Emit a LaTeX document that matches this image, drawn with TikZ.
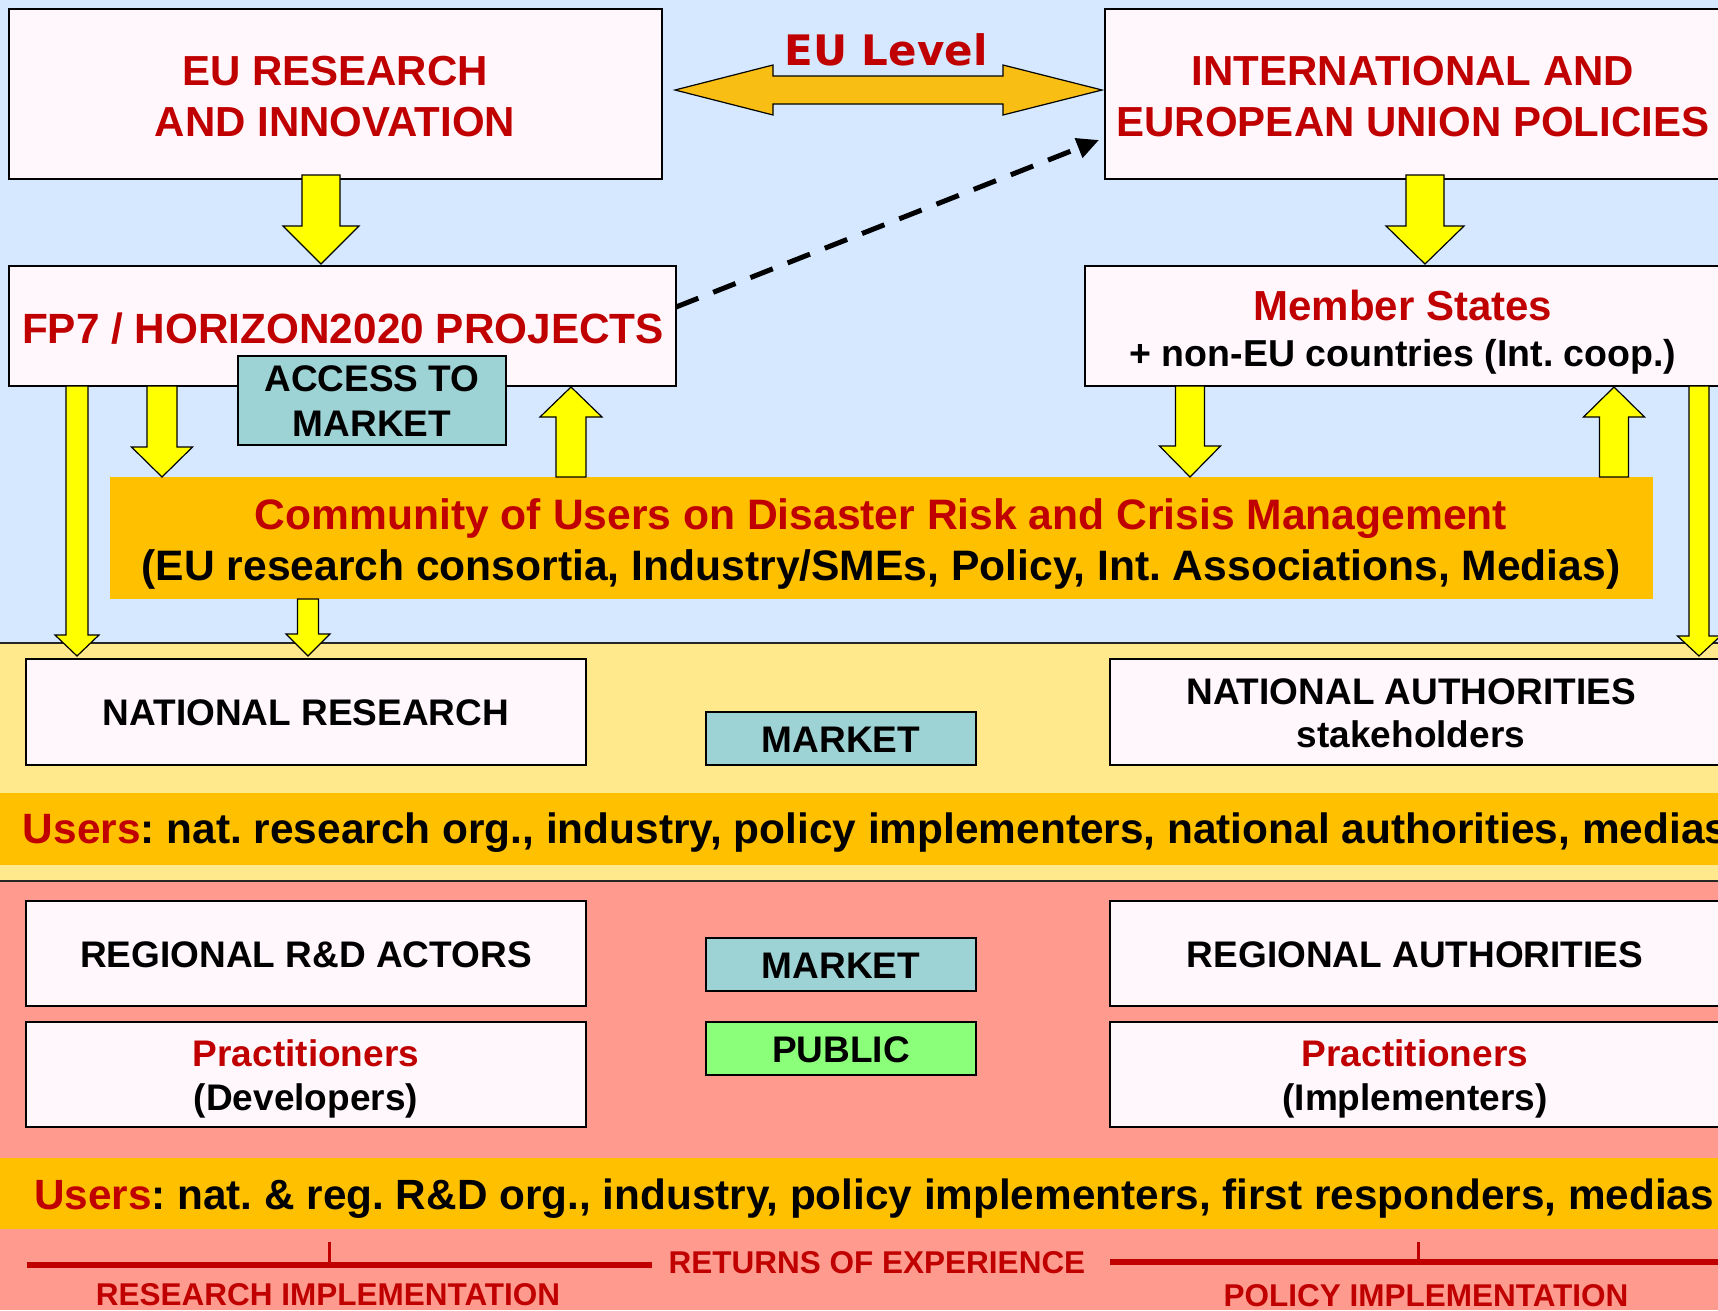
\documentclass[tikz,border=0pt]{standalone}
\usepackage{fontspec}
\setmainfont{Liberation Sans}
\newfontfamily\dejavu{DejaVu Sans}
\usetikzlibrary{calc,arrows.meta}
\frenchspacing
\definecolor{bgblue}{HTML}{D5E8FF}
\definecolor{bgyellow}{HTML}{FFE98C}
\definecolor{bgsalmon}{HTML}{FF9A8E}
\definecolor{bandorange}{HTML}{FFC000}
\definecolor{boxfill}{HTML}{FFF7FC}
\definecolor{mkteal}{HTML}{9ED3D6}
\definecolor{pubgreen}{HTML}{8CFF7A}
\definecolor{darkred}{HTML}{C00000}
\definecolor{arrowyellow}{HTML}{FFFF00}
\definecolor{levelorange}{HTML}{F9BE14}
\newcommand\fsz[1]{\fontsize{#1}{#1}\selectfont}
% block arrow: tail, tip (same x), shaft half width, head half width, signed head length (canvas)
\newcommand\yarrow[5]{\draw[yarr] let \p1=(#1), \p2=(#2) in
  ({\x1-#3},{\y1}) -- ({\x1+#3},{\y1}) -- ({\x1+#3},{\y2+(#5)}) -- ({\x1+#4},{\y2+(#5)}) --
  ({\x1},{\y2}) -- ({\x1-#4},{\y2+(#5)}) -- ({\x1-#3},{\y2+(#5)}) -- cycle;}
\begin{document}
\frenchspacing
\begin{tikzpicture}[x=1pt,y=-1pt,
  box/.style={draw=black, line width=1.6pt, fill=boxfill, inner sep=0pt, outer sep=0pt, anchor=north west},
  yarr/.style={draw=black, line width=1.2pt, fill=arrowyellow, line join=miter},
  lbl/.style={inner sep=0pt, outer sep=0pt, anchor=base, font=\bfseries},
  redlbl/.style={lbl, text=darkred},
  redline/.style={draw=darkred, line width=6pt},
  redtick/.style={draw=darkred, line width=3pt},
  bandline/.style={draw=black!85, line width=1.5pt}]
\useasboundingbox (0,0) rectangle (1718,1310);
\clip (0,0) rectangle (1718,1310);
% background bands
\fill[bgblue] (0,0) rectangle (1718,643);
\fill[bgyellow] (0,643) rectangle (1718,881);
\fill[bgsalmon] (0,881) rectangle (1718,1310);
\fill[bandorange] (0,793) rectangle (1718,865);
\fill[bandorange] (0,1158) rectangle (1718,1229);
\draw[bandline] (0,643) -- (1718,643);
\draw[bandline] (0,881) -- (1718,881);
% boxes
\node[box, minimum width=653pt, minimum height=170pt] (eur) at (9,9) {};
\node[box, minimum width=617pt, minimum height=170pt] (intl) at (1105,9) {};
\node[box, minimum width=667pt, minimum height=120pt] (fp7) at (9,266) {};
\node[box, minimum width=637pt, minimum height=120pt] (mem) at (1085,266) {};
\node[box, fill=mkteal, minimum width=268pt, minimum height=89pt] (acc) at (238,356) {};
\node[box, draw=none, fill=bandorange, minimum width=1543pt, minimum height=122pt] (comm) at (110,477) {};
\node[box, minimum width=560pt, minimum height=106pt] (natres) at (26,659) {};
\node[box, fill=mkteal, minimum width=270pt, minimum height=53pt] (mkt1) at (706,712) {};
\node[box, minimum width=612pt, minimum height=106pt] (natauth) at (1110,659) {};
\node[box, minimum width=560pt, minimum height=105pt] (regrd) at (26,901) {};
\node[box, minimum width=560pt, minimum height=105pt] (pracl) at (26,1022) {};
\node[box, fill=mkteal, minimum width=270pt, minimum height=53pt] (mkt2) at (706,938) {};
\node[box, fill=pubgreen, minimum width=270pt, minimum height=53pt] (pub) at (706,1022) {};
\node[box, minimum width=612pt, minimum height=105pt] (regauth) at (1110,901) {};
\node[box, minimum width=612pt, minimum height=105pt] (pracr) at (1110,1022) {};
% EU level double arrow
\draw[line width=1.2pt, fill=levelorange, line join=miter]
  let \p1=($(eur.east)+(13,-4)$), \p2=($(intl.west)+(-3,-4)$) in
  ({\x1},{\y1}) -- ({\x1+98},{\y1+25}) -- ({\x1+98},{\y1+14}) -- ({\x2-99},{\y1+14}) -- ({\x2-99},{\y1+25}) --
  ({\x2},{\y2}) -- ({\x2-99},{\y1-25}) -- ({\x2-99},{\y1-14}) -- ({\x1+98},{\y1-14}) -- ({\x1+98},{\y1-25}) -- cycle;
\node[lbl, text=darkred, font=\dejavu\bfseries\fsz{42}] (eulevel) at (886,65) {EU Level};
% dashed arrow
\draw[line width=5pt, dash pattern=on 24pt off 16pt, -{Triangle[length=22pt,width=20pt]}]
  ($(fp7.east)+(0,-19)$) -- ($(intl.south west)+(-6,-39)$);
% yellow block arrows
\yarrow{$(eur.south -| 321,0)+(0,-4)$}{$(fp7.north -| 321,0)+(0,-2)$}{19}{38}{38}
\yarrow{$(intl.south -| 1425,0)+(0,-4)$}{$(mem.north -| 1425,0)+(0,-2)$}{19}{39}{38}
\yarrow{fp7.south -| 77,0}{$(natres.north -| 77,0)+(0,-3)$}{11}{22}{21}
\yarrow{fp7.south -| 162,0}{comm.north -| 162,0}{15}{30.5}{30}
\yarrow{comm.north -| 571,0}{$(fp7.south -| 571,0)+(0,1)$}{15}{31}{-30}
\yarrow{comm.south -| 308,0}{$(natres.north -| 308,0)+(0,-3)$}{10.5}{22}{22}
\yarrow{mem.south -| 1190,0}{comm.north -| 1190,0}{14.5}{30.5}{31}
\yarrow{comm.north -| 1614,0}{$(mem.south -| 1614,0)+(0,1)$}{14.5}{30.5}{-30}
\yarrow{mem.south -| 1699,0}{$(natauth.north -| 1699,0)+(0,-3)$}{10}{21.5}{20}
% texts
\node[redlbl, font=\bfseries\fsz{42}] (t1) at (335,85) {EU RESEARCH};
\node[redlbl, font=\bfseries\fsz{42}] (t2) at (335,136) {AND INNOVATION};
\node[redlbl, font=\bfseries\fsz{42}] (t3) at (1413,85) {INTERNATIONAL AND};
\node[redlbl, font=\bfseries\fsz{42}] (t4) at (1413,136) {EUROPEAN UNION POLICIES};
\node[redlbl, font=\bfseries\fsz{42.3}] (t5) at (343,343) {FP7 / HORIZON2020 PROJECTS};
\node[lbl, font=\bfseries\fsz{37}] (t6) at (372,391) {ACCESS TO};
\node[lbl, font=\bfseries\fsz{37}] (t7) at (372,436) {MARKET};
\node[redlbl, font=\bfseries\fsz{42}] (t8) at (1403,320) {Member States};
\node[lbl, font=\bfseries\fsz{37.5}] (t9) at (1403,366) {+ non-EU countries (Int. coop.)};
\node[redlbl, font=\bfseries\fsz{42.6}] (t10) at (881,529) {Community of Users on Disaster Risk and Crisis Management};
\node[lbl, font=\bfseries\fsz{42.6}] (t11) at (881,580) {(EU research consortia, Industry/SMEs, Policy, Int. Associations, Medias)};
\node[lbl, font=\bfseries\fsz{37}] (t12) at (306,725.5) {NATIONAL RESEARCH};
\node[lbl, font=\bfseries\fsz{37}] (t13) at (841,752) {MARKET};
\node[lbl, font=\bfseries\fsz{37}] (t14) at (1411,704) {NATIONAL AUTHORITIES};
\node[lbl, font=\bfseries\fsz{37}] (t15) at (1411,747) {stakeholders};
\node[lbl, anchor=base west, font=\bfseries\fsz{42.4}] (t16) at (23,843)
  {\textcolor{darkred}{Users}: nat. research org., industry, policy implementers, national authorities, medias};
\node[lbl, font=\bfseries\fsz{37}] (t17) at (306,967) {REGIONAL R\&D ACTORS};
\node[lbl, font=\bfseries\fsz{37}] (t18) at (841,978.5) {MARKET};
\node[lbl, font=\bfseries\fsz{37}] (t19) at (1415,967) {REGIONAL AUTHORITIES};
\node[redlbl, font=\bfseries\fsz{37}] (t20) at (306,1066) {Practitioners};
\node[lbl, font=\bfseries\fsz{37}] (t21) at (306,1110) {(Developers)};
\node[lbl, font=\bfseries\fsz{37}] (t22) at (841,1062) {PUBLIC};
\node[redlbl, font=\bfseries\fsz{37}] (t23) at (1415,1066) {Practitioners};
\node[lbl, font=\bfseries\fsz{37}] (t24) at (1415,1110) {(Implementers)};
\node[lbl, anchor=base west, font=\bfseries\fsz{42.3}] (t25) at (34,1209)
  {\textcolor{darkred}{Users}: nat. \& reg. R\&D org., industry, policy implementers, first responders, medias};
\node[redlbl, font=\bfseries\fsz{31.5}] (t26) at (877,1273) {RETURNS OF EXPERIENCE};
\node[redlbl, font=\bfseries\fsz{31.5}] (t27) at (328,1305) {RESEARCH IMPLEMENTATION};
\node[redlbl, font=\bfseries\fsz{31.5}] (t28) at (1426,1306) {POLICY IMPLEMENTATION};
% returns of experience lines
\coordinate (la) at (27,1265);
\coordinate (lb) at (652,1265);
\coordinate (lt) at (329,1242);
\coordinate (ra) at (1110,1262);
\coordinate (rb) at (1725,1262);
\coordinate (rt) at (1418,1242);
\draw[redline] (la) -- (lb);
\draw[redtick] (lt) -- (lt |- la);
\draw[redline] (ra) -- (rb);
\draw[redtick] (rt) -- (rt |- ra);
\end{tikzpicture}
\end{document}
